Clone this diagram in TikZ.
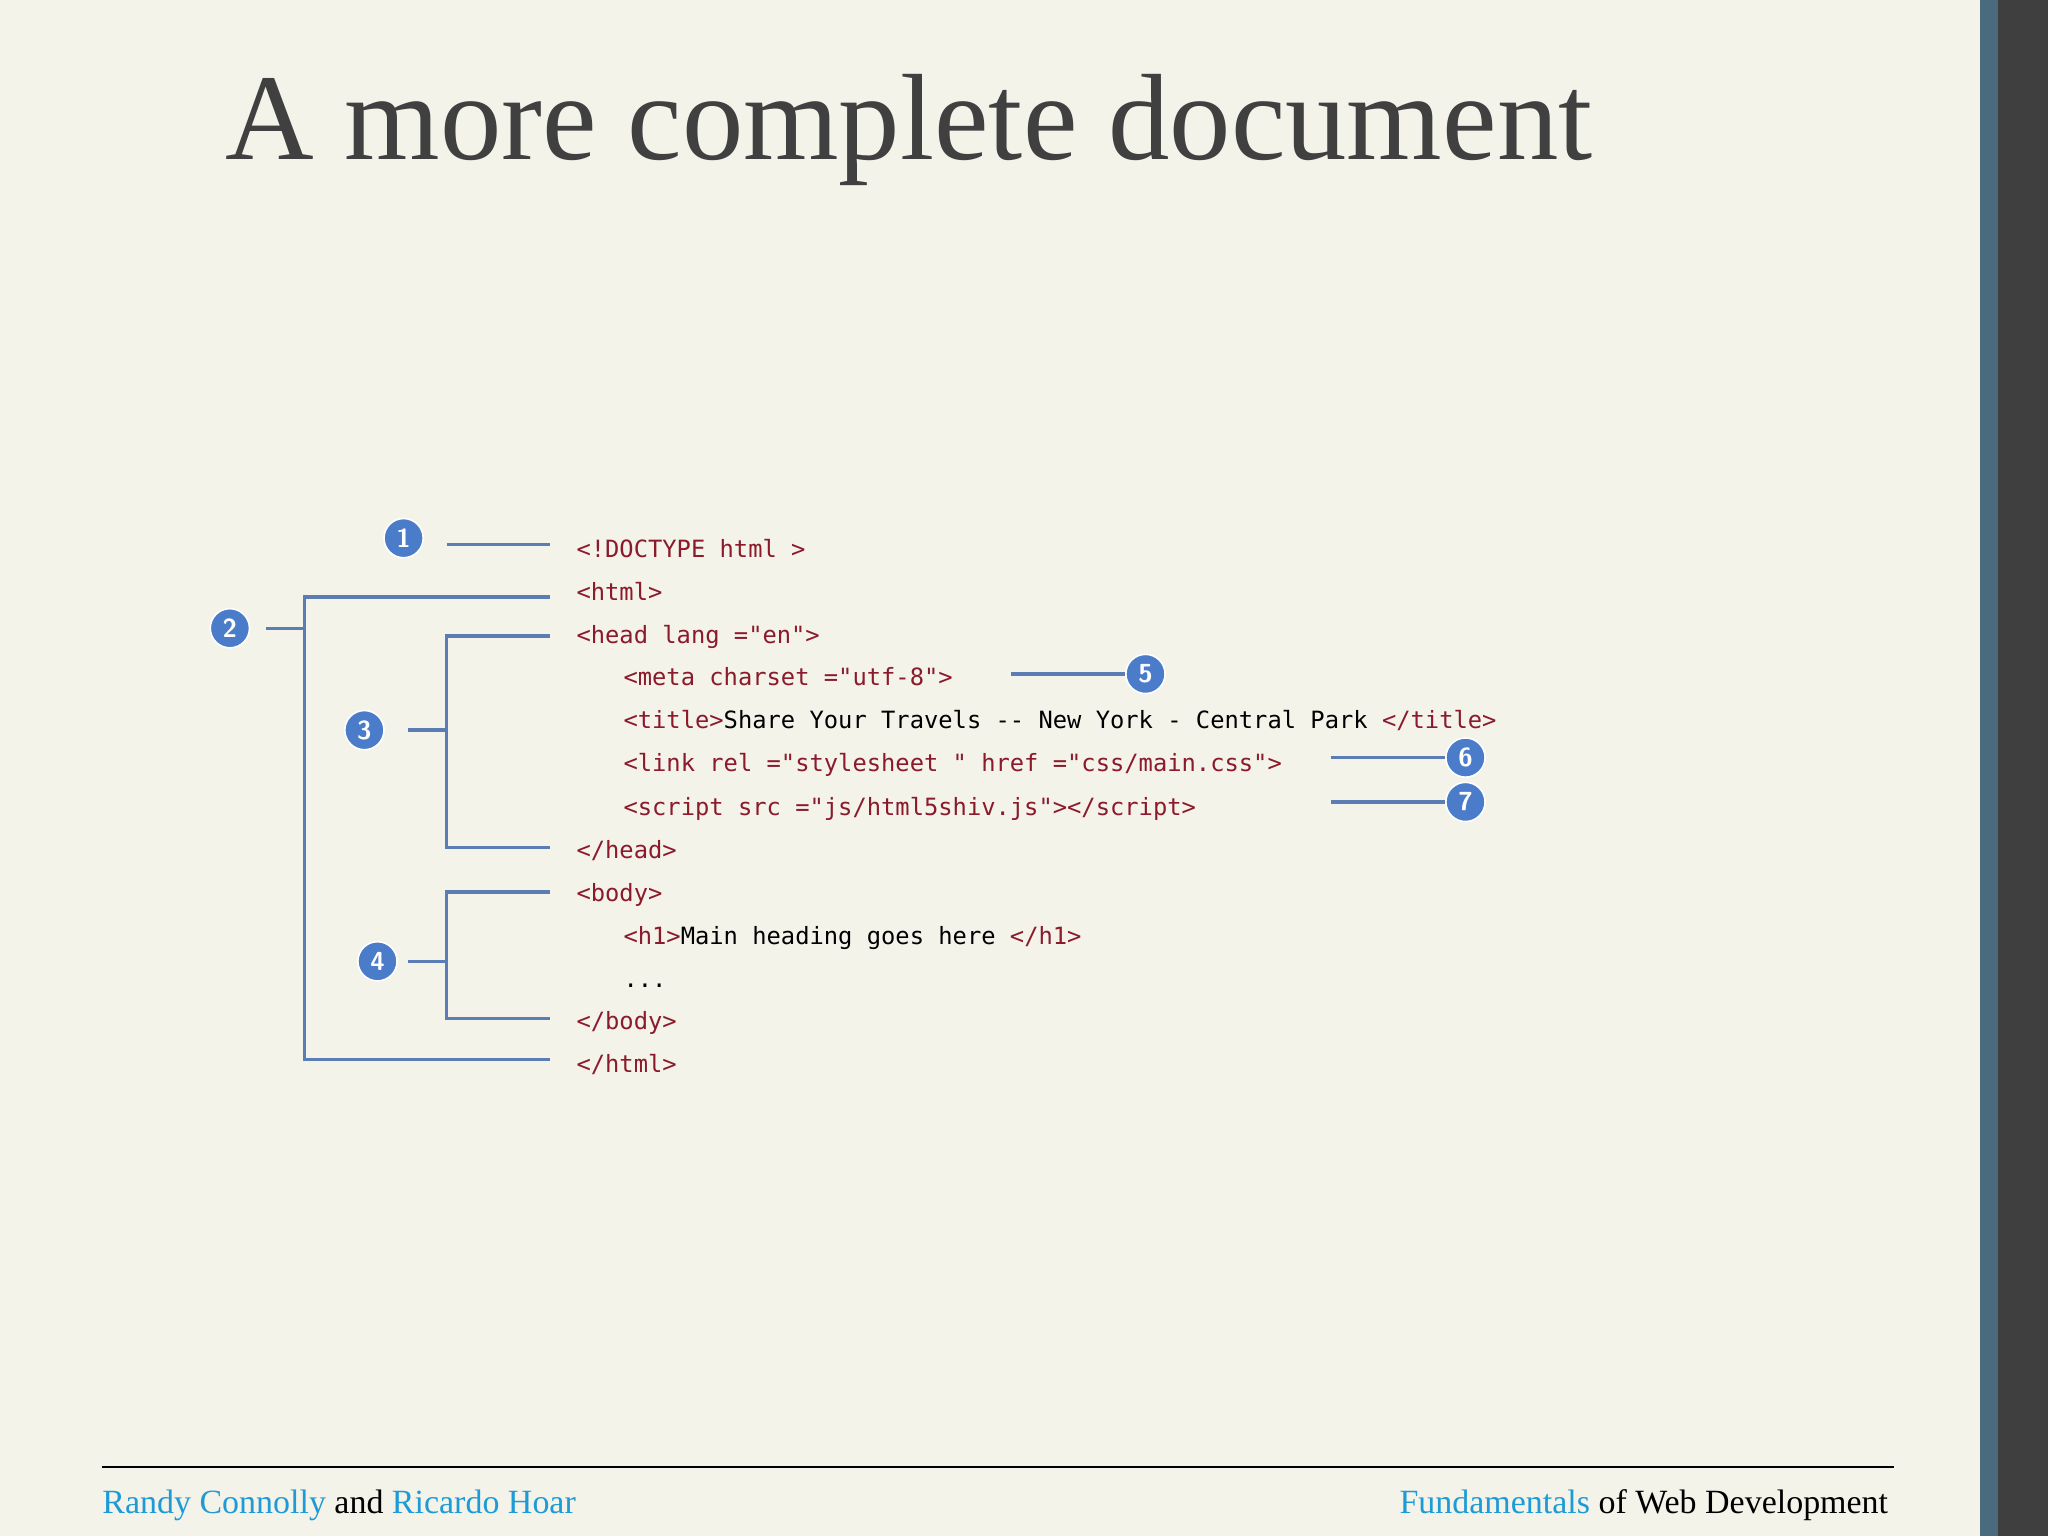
\documentclass[tikz,border=0pt]{standalone}
\usepackage{fontspec}
\setmainfont{Liberation Serif}
\setmonofont{DejaVu Sans Mono}
\definecolor{bg}{HTML}{F3F3EA}
\definecolor{tagc}{HTML}{8B1A2B}
\definecolor{linec}{HTML}{5B7DB5}
\definecolor{badge}{HTML}{4A7CC9}
\definecolor{foot}{HTML}{1E9BD7}
\definecolor{titlec}{HTML}{404040}
\definecolor{stripe}{HTML}{4A6B7D}
\definecolor{darkbar}{HTML}{3F3F3F}
\begin{document}
\begin{tikzpicture}[x=0.5pt,y=-0.5pt,
  code/.style={anchor=base west,inner sep=0,font=\ttfamily\fontsize{9.1}{10}\selectfont,text=tagc},
  badgec/.style={circle,fill=badge,draw=white,line width=0.6pt,minimum size=15pt,inner sep=0,text=white,font=\sffamily\bfseries\fontsize{10}{10}\selectfont},
  conn/.style={draw=linec,line width=1.3pt}]
\fill[bg] (0,0) rectangle (1568,1176);
\useasboundingbox (0,0) rectangle (1568,1176);
\fill[stripe] (1516,0) rectangle (1530,1176);
\fill[darkbar] (1530,0) rectangle (1568,1176);
\node[anchor=base west,inner sep=0,text=titlec,font=\fontsize{47}{50}\selectfont] (title) at (172,122) {A more complete document};
\draw[black,line width=0.8pt] (78,1123) -- (1450,1123);
\node[anchor=base west,inner sep=0,font=\fontsize{13}{14}\selectfont] (fl) at (78,1159) {\textcolor{foot}{Randy Connolly} and \textcolor{foot}{Ricardo Hoar}};
\node[anchor=base east,inner sep=0,font=\fontsize{13}{14}\selectfont] (fr) at (1446,1159) {\textcolor{foot}{Fundamentals} of Web Development};
% code
\node[code] (l1) at (441,427) {<!DOCTYPE html >};
\node[code] (l2) at (441,460) {<html>};
\node[code] (l3) at (441,493) {<head lang ="en">};
\node[code] (l4) at (477,525) {<meta charset ="utf-8">};
\node[code] (l5) at (477,558) {<title>\textcolor{black}{Share Your Travels  -- New York  - Central Park }</title>};
\node[code] (l6) at (477,591) {<link rel ="stylesheet " href ="css/main.css">};
\node[code] (l7) at (477,624) {<script src ="js/html5shiv.js"></script>};
\node[code] (l8) at (441,657) {</head>};
\node[code] (l9) at (441,690) {<body>};
\node[code] (l10) at (477,723) {<h1>\textcolor{black}{Main heading goes here }</h1>};
\node[code] (l11) at (477,756) {\textcolor{black}{...}};
\node[code] (l12) at (441,788) {</body>};
\node[code] (l13) at (441,821) {</html>};
% badges
\node[badgec] (b1) at (309,412) {1};
\node[badgec] (b2) at (176,481) {2};
\node[badgec] (b3) at (279,559) {3};
\node[badgec] (b4) at (289,736) {4};
\node[badgec] (b5) at (877,516) {5};
\node[badgec] (b6) at (1122,580) {6};
\node[badgec] (b7) at (1122,614) {7};
% connectors
\coordinate (s1) at (342,417);
\coordinate (e1) at (421,417);
\draw[conn] (s1) -- (e1);
\coordinate (s2) at (204,481);
\coordinate (j2) at (233,481);
\draw[conn] (s2) -- (j2);
\draw[conn] (421,457) -- (233,457) -- (233,811) -- (421,811);
\coordinate (s3) at (312,559);
\coordinate (j3) at (342,559);
\draw[conn] (s3) -- (j3);
\draw[conn] (421,487) -- (342,487) -- (342,649) -- (421,649);
\coordinate (s4) at (312,736);
\coordinate (j4) at (342,736);
\draw[conn] (s4) -- (j4);
\draw[conn] (421,683) -- (342,683) -- (342,780) -- (421,780);
\coordinate (s5) at (774,516);
\draw[conn] (s5) -- (b5.west);
\coordinate (s6) at (1019,580);
\draw[conn] (s6) -- (b6.west);
\coordinate (s7) at (1019,614);
\draw[conn] (s7) -- (b7.west);
\end{tikzpicture}
\end{document}
